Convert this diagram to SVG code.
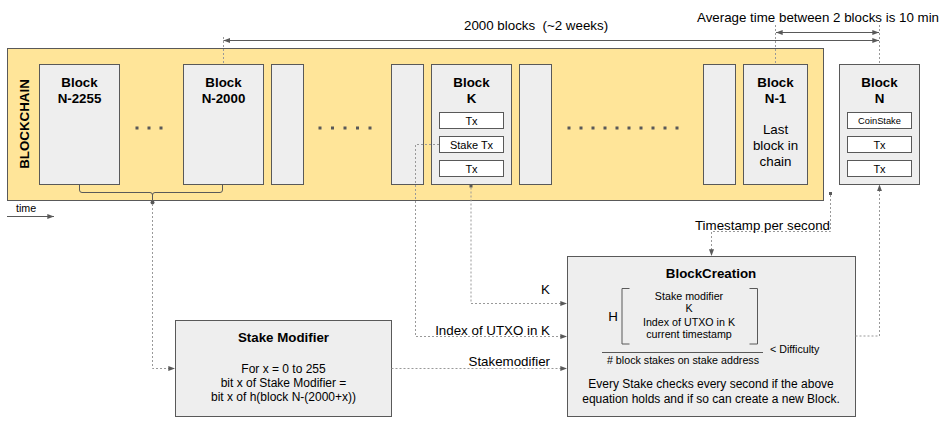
<svg xmlns="http://www.w3.org/2000/svg" width="945" height="428" viewBox="0 0 945 428">
<defs>
<style>
text{font-family:"Liberation Sans",Arial,sans-serif;fill:#000}
.b{font-weight:bold;font-size:13.33px;text-anchor:middle}
.n{font-size:13.33px}
.p{font-size:12px;text-anchor:middle}
.m{text-anchor:middle}
.e{text-anchor:end}
.s{font-size:10.7px}
.tx{font-size:11px;text-anchor:middle}
.blk{fill:#eeeeee;stroke:#595959;stroke-width:1}
.txb{fill:#ffffff;stroke:#595959;stroke-width:1}
.sol{fill:none;stroke:#595959;stroke-width:1}
.dot{fill:none;stroke:#999999;stroke-width:1;stroke-dasharray:2 2}
.dd{fill:none;stroke:#595959;stroke-width:3}
</style>
<marker id="arr" viewBox="0 0 8 6" refX="8" refY="3" markerWidth="7" markerHeight="5" markerUnits="userSpaceOnUse" orient="auto-start-reverse">
<path d="M0,0 L8,3 L0,6 z" fill="#595959"/>
</marker>
</defs>

<g id="blockchain">
<rect x="7.5" y="48.5" width="816" height="152" fill="#ffe599" stroke="#595959"/>
<text class="b" transform="translate(29,124) rotate(-90)">BLOCKCHAIN</text>
<line class="dd" x1="135.5" y1="128" x2="163" y2="128" stroke-dasharray="3 9"/>
<line class="dd" x1="318.5" y1="128" x2="371.5" y2="128" stroke-dasharray="3 9.5"/>
<line class="dd" x1="567.5" y1="128" x2="678.5" y2="128" stroke-dasharray="3 9"/>
</g>

<g id="block-n2255">
<rect class="blk" x="39.5" y="64.5" width="80" height="120"/>
<text class="b" x="79.5" y="86.5">Block</text>
<text class="b" x="79.5" y="102.5">N-2255</text>
</g>

<g id="block-n2000">
<rect class="blk" x="183.5" y="64.5" width="80" height="120"/>
<text class="b" x="223.5" y="86.5">Block</text>
<text class="b" x="223.5" y="102.5">N-2000</text>
</g>

<g id="block-a"><rect class="blk" x="271.5" y="64.5" width="32" height="120"/></g>
<g id="block-b"><rect class="blk" x="391.5" y="64.5" width="32" height="120"/></g>

<g id="block-k">
<rect class="blk" x="431.5" y="64.5" width="80" height="120"/>
<text class="b" x="471.5" y="86.5">Block</text>
<text class="b" x="471.5" y="102.5">K</text>
<rect class="txb" x="439.5" y="112.5" width="64" height="16"/>
<text class="tx" x="471.5" y="124.5">Tx</text>
<rect class="txb" x="439.5" y="136.5" width="64" height="16"/>
<text class="tx" x="471.5" y="148.5">Stake Tx</text>
<rect class="txb" x="439.5" y="160.5" width="64" height="16"/>
<text class="tx" x="471.5" y="172.5">Tx</text>
</g>

<g id="block-c"><rect class="blk" x="519.5" y="64.5" width="32" height="120"/></g>
<g id="block-d"><rect class="blk" x="703.5" y="64.5" width="32" height="120"/></g>

<g id="block-n1">
<rect class="blk" x="743.5" y="64.5" width="64" height="120"/>
<text class="b" x="775.5" y="86.5">Block</text>
<text class="b" x="775.5" y="102.5">N-1</text>
<text class="n m" x="775.5" y="134">Last</text>
<text class="n m" x="775.5" y="150">block in</text>
<text class="n m" x="775.5" y="166">chain</text>
</g>

<g id="block-n">
<rect class="blk" x="839.5" y="64.5" width="80" height="120"/>
<text class="b" x="879.5" y="86.5">Block</text>
<text class="b" x="879.5" y="102.5">N</text>
<rect class="txb" x="847.5" y="112.5" width="64" height="16"/>
<text class="m" x="879.5" y="123.8" style="font-size:9.3px">CoinStake</text>
<rect class="txb" x="847.5" y="136.5" width="64" height="16"/>
<text class="tx" x="879.5" y="148.5">Tx</text>
<rect class="txb" x="847.5" y="160.5" width="64" height="16"/>
<text class="tx" x="879.5" y="172.5">Tx</text>
</g>

<g id="stake-modifier">
<rect class="blk" x="175.5" y="320.5" width="216" height="96"/>
<text class="b" x="283.5" y="342">Stake Modifier</text>
<text class="p" x="283.5" y="372.5">For x = 0 to 255</text>
<text class="p" x="283.5" y="386.5">bit x of Stake Modifier =</text>
<text class="p" x="283.5" y="401">bit x of h(block N-(2000+x))</text>
</g>

<g id="block-creation">
<rect class="blk" x="567.5" y="256.5" width="288" height="160"/>
<text class="b" x="711" y="278">BlockCreation</text>
<text class="n m" x="613" y="321">H</text>
<path class="sol" d="M629.5,288.5 H622 V344 H629.5"/>
<path class="sol" d="M749.5,288.5 H757.5 V344 H749.5"/>
<text class="s m" x="689" y="299.5">Stake modifier</text>
<text class="s m" x="689" y="312">K</text>
<text class="s m" x="689" y="325.5">Index of UTXO in K</text>
<text class="s m" x="689" y="338">current timestamp</text>
<line class="sol" x1="602" y1="352.5" x2="763" y2="352.5"/>
<text class="s m" x="683" y="363.5"># block stakes on stake address</text>
<text class="s" x="770" y="353">&lt; Difficulty</text>
<text class="p" x="711" y="388">Every Stake checks every second if the above</text>
<text class="p" x="711" y="403">equation holds and if so can create a new Block.</text>
</g>

<g id="annotations">
<text class="n" x="464" y="29.7" xml:space="preserve">2000 blocks  (~2 weeks)</text>
<text class="n" x="697" y="21.5">Average time between 2 blocks is 10 min</text>
<text class="s" x="16" y="211.5">time</text>
</g>

<g id="connectors">
<line class="sol" x1="223.5" y1="40.5" x2="879" y2="40.5" marker-start="url(#arr)" marker-end="url(#arr)"/>
<line class="sol" x1="776" y1="32.5" x2="879" y2="32.5" marker-start="url(#arr)" marker-end="url(#arr)"/>
<line class="dot" x1="223.5" y1="37" x2="223.5" y2="64"/>
<line class="dot" x1="775.5" y1="25" x2="775.5" y2="64"/>
<line class="dot" x1="879.5" y1="25" x2="879.5" y2="64"/>
<line class="sol" x1="7" y1="216.5" x2="54" y2="216.5" marker-end="url(#arr)"/>
<path class="sol" d="M79.5,184.5 V190 Q79.5,192.5 82,192.5 H150 Q152.5,192.5 152.5,195 V200"/>
<path class="sol" d="M222.5,184.5 V190 Q222.5,192.5 220,192.5 H155 Q152.5,192.5 152.5,195"/>
<circle cx="152.5" cy="202.5" r="2" fill="#595959"/>
<path class="dot" d="M152.5,204 V368.5 H175" marker-end="url(#arr)"/>
<path class="dot" d="M391.5,368.5 H567" marker-end="url(#arr)"/>
<text class="n e" x="550" y="366">Stakemodifier</text>
<rect x="469.5" y="184.5" width="3" height="3" fill="#595959"/>
<path class="dot" d="M471,187.5 V303.5 H567" marker-end="url(#arr)"/>
<text class="n e" x="550" y="293.5">K</text>
<path class="dot" d="M439,144.5 H415.5 V336.5 H567" marker-end="url(#arr)"/>
<text class="n e" x="550" y="334.5">Index of UTXO in K</text>
<rect x="829" y="192" width="3" height="3" fill="#595959"/>
<path class="dot" d="M830.5,195 V231.5 H711.5 V256" marker-end="url(#arr)"/>
<text class="n e" x="830" y="230">Timestamp per second</text>
<path class="dot" d="M855.5,336 H879.5 V184.5" marker-end="url(#arr)"/>
</g>
</svg>
